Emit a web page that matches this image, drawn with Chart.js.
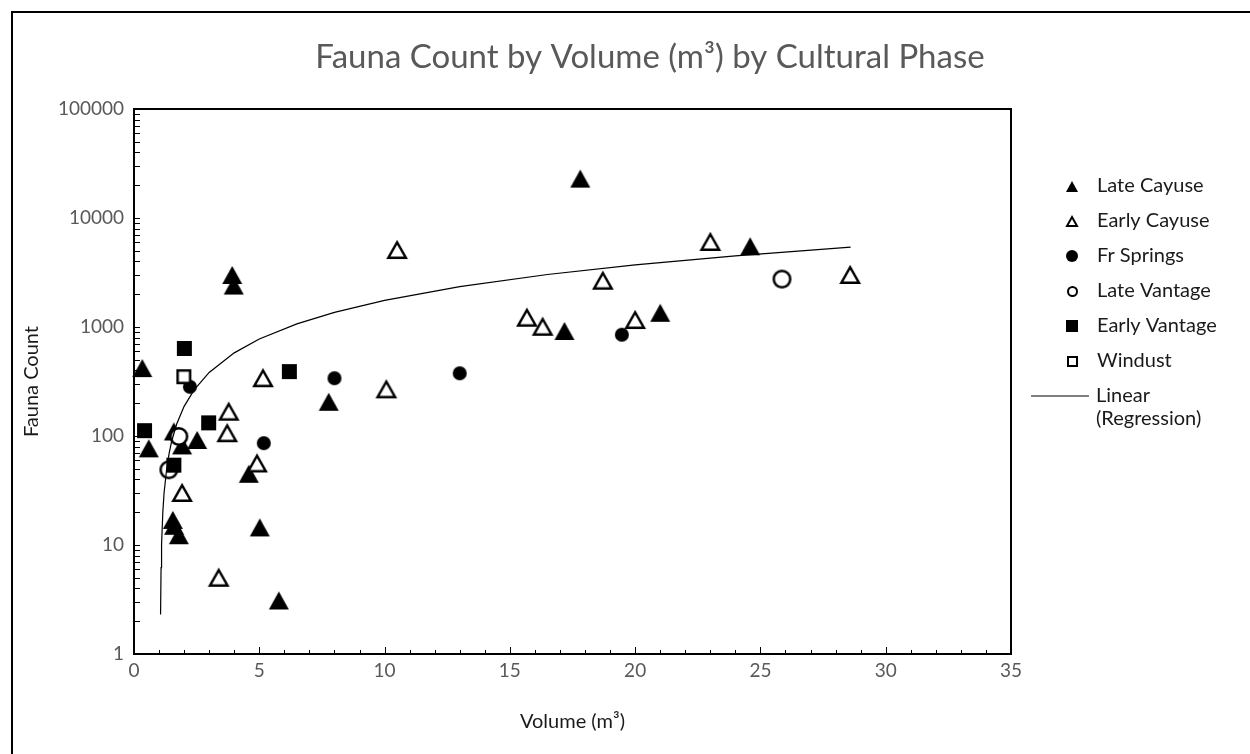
<!DOCTYPE html>
<html>
<head>
<meta charset="utf-8">
<script src="https://cdn.jsdelivr.net/npm/chart.js@4.4.1/dist/chart.umd.min.js"></script>
<style>
  html, body { margin: 0; padding: 0; background: #fff; }
  body { width: 1250px; height: 754px; position: relative; overflow: hidden; }
  #frame { position: absolute; left: 11px; top: 11px; width: 1300px; height: 800px; border: 2px solid #000; box-sizing: border-box; }
  #wrap { position: absolute; left: 0; top: 0; width: 1250px; height: 754px; }
</style>
</head>
<body>
<div id="frame"></div>
<div id="wrap"><canvas id="chart" width="1250" height="754"></canvas></div>
<script>
// values
const lateCayuseVol   = [0.33, 3.92, 3.98, 0.59, 1.59, 1.92, 2.52, 7.77, 4.58, 1.55, 1.6, 1.79, 5.02, 5.78, 17.81, 17.18, 21.0, 24.59];
const lateCayuseCount = [420, 3000, 2400, 77, 110, 82, 92, 206, 45, 17, 15, 12.3, 14.5, 3.1, 23000, 920, 1350, 5500];

const earlyCayuseVol   = [5.15, 3.78, 3.72, 4.91, 1.92, 3.38, 10.5, 18.71, 15.68, 16.31, 20.0, 10.07, 23.0, 28.58];
const earlyCayuseCount = [339, 167, 106, 56, 30, 5.0, 5080, 2660, 1217, 1005, 1158, 268, 6030, 3000];

const frSpringsVol   = [2.23, 8.0, 5.18, 19.47, 13.0];
const frSpringsCount = [283, 339, 86, 850, 376];

const lateVantageVol   = [1.79, 1.39, 25.86];
const lateVantageCount = [99, 49, 2750];

const earlyVantageVol   = [2.01, 6.2, 2.98, 0.42, 1.59];
const earlyVantageCount = [635, 390, 132, 112, 54];

const windustVol   = [1.99];
const windustCount = [350];

// regression curve
const trendVol   = [1.06, 1.08, 1.1, 1.15, 1.2, 1.3, 1.4, 1.5, 1.7, 2, 2.4, 3, 4, 5, 6.5, 8, 10, 13, 16.5, 20, 24, 28.6];
const trendCount = [2.3, 6.2, 10, 20, 30, 49, 69, 89, 128, 187, 265, 383, 579, 775, 1069, 1363, 1755, 2344, 3030, 3716, 4500, 5400];

const xTicks = [0, 5, 10, 15, 20, 25, 30, 35];
const yTicks = [1, 10, 100, 1000, 10000, 100000];

const FONT = "Lato, 'Open Sans', sans-serif";

function pts(xs, ys) {
    return xs.map((x, i) => ({ x: x, y: ys[i] }));
}

// marker images, centred on the point like Excel markers
function marker(shape, w, h, filled, lw) {
    const pad = 2;
    const c = document.createElement("canvas");
    c.width = w + pad * 2;
    c.height = h + pad * 2;
    const g = c.getContext("2d");
    const i = filled ? 0 : lw / 2;
    const x0 = pad + i, y0 = pad + i, x1 = pad + w - i, y1 = pad + h - i;
    g.beginPath();
    if (shape === "triangle") {
        g.moveTo((x0 + x1) / 2, y0);
        g.lineTo(x1, y1);
        g.lineTo(x0, y1);
        g.closePath();
    } else if (shape === "circle") {
        g.ellipse((x0 + x1) / 2, (y0 + y1) / 2, (x1 - x0) / 2, (y1 - y0) / 2, 0, 0, Math.PI * 2);
    } else {
        g.rect(x0, y0, x1 - x0, y1 - y0);
    }
    g.fillStyle = filled ? "#000" : "#fff";
    g.fill();
    if (!filled) {
        g.lineWidth = lw;
        g.strokeStyle = "#000";
        g.lineJoin = "miter";
        g.stroke();
    }
    return c;
}

const series = [
    { label: "Late Cayuse",   data: pts(lateCayuseVol, lateCayuseCount),     style: marker("triangle", 20, 18, true, 0),     legend: marker("triangle", 12, 11, true, 0) },
    { label: "Early Cayuse",  data: pts(earlyCayuseVol, earlyCayuseCount),   style: marker("triangle", 20, 18, false, 2.5),  legend: marker("triangle", 12, 11, false, 2) },
    { label: "Fr Springs",    data: pts(frSpringsVol, frSpringsCount),       style: marker("circle", 14, 14, true, 0),       legend: marker("circle", 12, 12, true, 0) },
    { label: "Late Vantage",  data: pts(lateVantageVol, lateVantageCount),   style: marker("circle", 19, 19, false, 2.5),    legend: marker("circle", 11, 11, false, 2) },
    { label: "Early Vantage", data: pts(earlyVantageVol, earlyVantageCount), style: marker("square", 15, 15, true, 0),       legend: marker("square", 12, 12, true, 0) },
    { label: "Windust",       data: pts(windustVol, windustCount),           style: marker("square", 15, 15, false, 2.5),    legend: marker("square", 11, 11, false, 2) }
];

const datasets = series.map((s, i) => ({
    label: s.label,
    data: s.data,
    pointStyle: s.style,
    pointRadius: 8,
    pointHoverRadius: 8,
    legendStyle: s.legend,
    order: 10 - i,
    clip: false
}));

datasets.push({
    label: "Linear (Regression)",
    data: pts(trendVol, trendCount),
    showLine: true,
    borderColor: "#000",
    borderWidth: 1.2,
    pointRadius: 0,
    pointHoverRadius: 0,
    tension: 0,
    order: 0,
    clip: false
});

// plot frame and inside tick marks
const framePlugin = {
    id: "frame",
    beforeDatasetsDraw(chart) {
        const { ctx, chartArea: a, scales: { x, y } } = chart;
        ctx.save();
        ctx.strokeStyle = "#000";
        ctx.lineWidth = 1;
        ctx.beginPath();
        for (let v = 0; v <= 35; v++) {
            const px = Math.round(x.getPixelForValue(v)) + 0.5;
            const len = v % 5 === 0 ? 7 : 4;
            ctx.moveTo(px, a.bottom);
            ctx.lineTo(px, a.bottom - len);
        }
        for (let d = 1; d < 100000; d *= 10) {
            for (let k = 1; k <= 9; k++) {
                const py = Math.round(y.getPixelForValue(d * k)) + 0.5;
                ctx.moveTo(a.left, py);
                ctx.lineTo(a.left + 6, py);
            }
        }
        ctx.stroke();
        ctx.lineWidth = 2;
        ctx.strokeRect(a.left, a.top, a.right - a.left, a.bottom - a.top);
        ctx.restore();
    }
};

const titlePlugin = {
    id: "titleText",
    afterDraw(chart) {
        const ctx = chart.ctx;
        ctx.save();
        ctx.fillStyle = "#595959";
        ctx.font = "33px " + FONT;
        ctx.textAlign = "center";
        ctx.textBaseline = "middle";
        ctx.fillText("Fauna Count by Volume (m³) by Cultural Phase", 650, 57);
        ctx.restore();
    }
};

const legendPlugin = {
    id: "sideLegend",
    afterDraw(chart) {
        const ctx = chart.ctx;
        ctx.save();
        ctx.font = "20px " + FONT;
        ctx.fillStyle = "#1a1a1a";
        ctx.textBaseline = "middle";
        chart.data.datasets.forEach((ds, i) => {
            const yy = 186 + i * 35;
            if (ds.legendStyle) {
                const m = ds.legendStyle;
                ctx.drawImage(m, Math.round(1072 - m.width / 2), Math.round(yy - m.height / 2));
                ctx.fillText(ds.label, 1097, yy);
            } else {
                ctx.strokeStyle = "#000";
                ctx.lineWidth = 1.2;
                ctx.beginPath();
                ctx.moveTo(1031, yy);
                ctx.lineTo(1089, yy);
                ctx.stroke();
                ctx.fillText("Linear", 1096, yy);
                ctx.fillText("(Regression)", 1096, yy + 23);
            }
        });
        ctx.restore();
    }
};

new Chart(document.getElementById("chart").getContext("2d"), {
    type: "scatter",
    data: { datasets: datasets },
    plugins: [framePlugin, titlePlugin, legendPlugin],
    options: {
        responsive: false,
        animation: false,
        events: [],
        layout: { padding: { left: 0, top: 109, right: 239, bottom: 0 } },
        plugins: {
            legend: { display: false },
            title: { display: false },
            tooltip: { enabled: false }
        },
        scales: {
            x: {
                type: "linear",
                min: 0,
                max: 35,
                afterBuildTicks: s => { s.ticks = xTicks.map(v => ({ value: v })); },
                afterFit: s => { s.height = 100; },
                grid: { display: false, drawTicks: false },
                border: { display: false },
                ticks: { color: "#595959", font: { family: FONT, size: 19 }, padding: 5 },
                title: { display: true, text: "Volume (m³)", color: "#1a1a1a", font: { family: FONT, size: 20 }, padding: { top: 0, bottom: 20 } }
            },
            y: {
                type: "logarithmic",
                min: 1,
                max: 100000,
                afterBuildTicks: s => { s.ticks = yTicks.map(v => ({ value: v })); },
                afterFit: s => { s.width = 134; },
                grid: { display: false, drawTicks: false },
                border: { display: false },
                ticks: { color: "#595959", font: { family: FONT, size: 19 }, padding: 10, callback: v => String(v) },
                title: { display: true, text: "Fauna Count", color: "#1a1a1a", font: { family: FONT, size: 20 }, padding: { top: 20, bottom: 0 } }
            }
        }
    }
});
</script>
</body>
</html>
